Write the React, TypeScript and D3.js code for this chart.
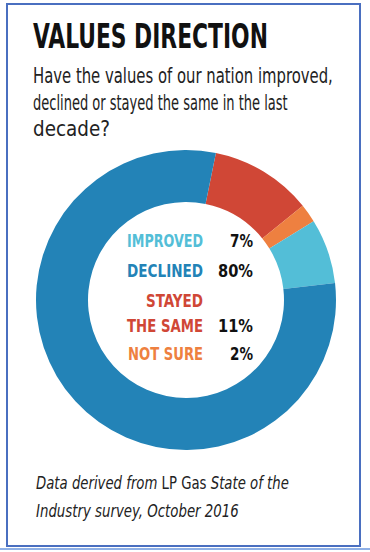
import * as d3 from 'd3';
import { useLayoutEffect, useRef, useState } from 'react';

const categories = ['IMPROVED', 'DECLINED', 'STAYED THE SAME', 'NOT SURE'];
const labelLines = [['IMPROVED'], ['DECLINED'], ['STAYED', 'THE SAME'], ['NOT SURE']];
const values = [7, 80, 11, 2];
const colors = ['#53bed7', '#2383b7', '#d04736', '#ee8040'];
// clockwise order of the ring, starting just right of 12 o'clock
const sliceOrder = [2, 3, 0, 1];

const title = 'VALUES DIRECTION';
const question = ['Have the values of our nation improved,', 'declined or stayed the same in the last', 'decade?'];

const W = 370;
const H = 552;
const cx = 186;
const cy = 300;
const font = '"Liberation Sans Narrow", "DejaVu Sans Condensed", "Open Sans", sans-serif';

// squeezes a text horizontally so it takes the given width (the original uses a condensed face)
function FitText({ x, y, width, anchor = 'start', children, ...rest }: any) {
  const ref = useRef<SVGTextElement>(null);
  const [sx, setSx] = useState(1);
  useLayoutEffect(() => {
    if (!ref.current) return;
    const len = ref.current.getComputedTextLength();
    if (len > 0) setSx(Math.min(1, width / len));
  }, [width, children]);
  return (
    <text ref={ref} transform={`translate(${x},${y}) scale(${sx},1)`} textAnchor={anchor} {...rest}>
      {children}
    </text>
  );
}

export default function App() {
  const pie = d3
    .pie<number>()
    .value((i) => values[i])
    .sort(null)
    .startAngle((11.5 * Math.PI) / 180)
    .endAngle((11.5 * Math.PI) / 180 + 2 * Math.PI);
  const arcs = pie(sliceOrder);
  const arc = d3.arc<d3.PieArcDatum<number>>().innerRadius(98).outerRadius(150);

  // legend rows inside the hole
  const rowY = [247, 277, 332, 360];
  const labelW: Record<string, number> = { IMPROVED: 76, DECLINED: 76, STAYED: 57, 'THE SAME': 76, 'NOT SURE': 75 };

  return (
    <svg width={W} height={H} style={{ position: 'absolute', left: 0, top: 0, background: '#fff' }}>
      <rect x={7} y={4} width={353} height={542} fill="#fff" stroke="#4a6fc0" strokeWidth={2} />
      <line x1={0} x2={W} y1={549} y2={549} stroke="#8fb0e6" strokeWidth={2} />

      <FitText x={33} y={48} width={235} fontFamily={font} fontWeight="bold" fontSize={33} fill="#111">
        {title}
      </FitText>
      {question.map((q, i) => (
        <FitText key={i} x={33} y={83 + i * 26.5} width={[300, 255, 77][i]} fontFamily={font} fontSize={21} fill="#222">
          {q}
        </FitText>
      ))}

      <g transform={`translate(${cx},${cy})`}>
        {arcs.map((a) => (
          <path key={a.data} d={arc(a) ?? ''} fill={colors[a.data]} />
        ))}
      </g>

      {categories.map((c, i) => {
        const lines = labelLines[i];
        return (
          <g key={c}>
            {lines.map((l, j) => (
              <FitText key={l} x={203} y={rowY[i] - (lines.length - 1 - j) * 25} width={labelW[l]} anchor="end"
                fontFamily={font} fontWeight="bold" fontSize={17} fill={colors[i]}>
                {l}
              </FitText>
            ))}
            <FitText x={253} y={rowY[i]} width={values[i] >= 10 ? 35 : 23} anchor="end" fontFamily={font}
              fontWeight="bold" fontSize={17} fill="#111">
              {values[i]}%
            </FitText>
          </g>
        );
      })}

      <FitText x={36} y={489} width={253} fontFamily={font} fontSize={17} fill="#222">
        <tspan fontStyle="italic">Data derived from </tspan>
        <tspan>LP Gas </tspan>
        <tspan fontStyle="italic">State of the</tspan>
      </FitText>
      <FitText x={36} y={517} width={203} fontFamily={font} fontSize={17} fill="#222" fontStyle="italic">
        Industry survey, October 2016
      </FitText>
    </svg>
  );
}
